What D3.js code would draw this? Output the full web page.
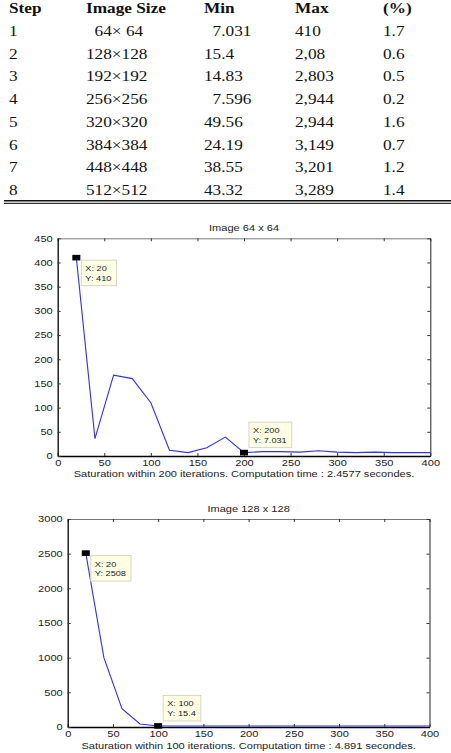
<!DOCTYPE html>
<html>
<head>
<meta charset="utf-8">
<script src="https://cdn.jsdelivr.net/npm/d3@7"></script>
<style>
body { margin: 0; background: #fff; }
svg { display: block; }
.tbl text { font-family: "Liberation Serif", "Times New Roman", serif; font-size: 15px; white-space: pre; fill: #111; }
.tbl .hd { font-weight: bold; }
.plot text { font-family: "Liberation Sans", Arial, sans-serif; font-size: 9px; fill: #222; }
.tip text { font-size: 8px; }
</style>
</head>
<body>
<svg id="canvas" width="451" height="753"></svg>
<script>
// table data
var headers = ["Step", "Image Size", "Min", "Max", "(%)"];
var steps = ["1", "2", "3", "4", "5", "6", "7", "8"];
var sizes = ["  64\u00d7 64", "128\u00d7128", "192\u00d7192", "256\u00d7256", "320\u00d7320", "384\u00d7384", "448\u00d7448", "512\u00d7512"];
var mins = ["  7.031", "15.4", "14.83", "  7.596", "49.56", "24.19", "38.55", "43.32"];
var maxs = ["410", "2,08", "2,803", "2,944", "2,944", "3,149", "3,201", "3,289"];
var pcts = ["1.7", "0.6", "0.5", "0.2", "1.6", "0.7", "1.2", "1.4"];

// plot data
var iters = [20, 40, 60, 80, 100, 120, 140, 160, 180, 200, 220, 240, 260, 280, 300, 320, 340, 360, 380, 400];
var err64 = [410, 36, 167, 160, 110, 12, 7, 17, 39, 7.031, 9, 9, 8, 11, 8, 7, 8, 7, 7, 7];
var err128 = [2508, 1000, 265, 43, 15.4, 15, 15, 15, 15, 15, 15, 15, 15, 15, 15, 15, 15, 15, 15, 15];
var xTicks = [0, 50, 100, 150, 200, 250, 300, 350, 400];
var yTicks64 = [0, 50, 100, 150, 200, 250, 300, 350, 400, 450];
var yTicks128 = [0, 500, 1000, 1500, 2000, 2500, 3000];

var svg = d3.select("#canvas");
var SX = 1.15;   // the scan is stretched sideways a bit
var PX = 1.23;   // plot labels are stretched a bit more

// ---- table ----
var colX = [9, 86, 204, 295, 383];
var rowY = d3.scaleLinear().domain([0, 7]).range([36, 195]);
var cols = [steps, sizes, mins, maxs, pcts];

var tbl = svg.append("g").attr("class", "tbl")
  .attr("transform", "scale(" + SX + ",1)");

tbl.selectAll("text.hd")
  .data(headers)
  .enter().append("text")
  .attr("class", "hd")
  .attr("x", function(d, i) { return colX[i] / SX; })
  .attr("y", 13.5)
  .text(function(d) { return d; });

cols.forEach(function(col, c) {
  tbl.selectAll("text.c" + c)
    .data(col)
    .enter().append("text")
    .attr("class", "c" + c)
    .attr("x", colX[c] / SX)
    .attr("y", function(d, i) { return rowY(i); })
    .text(function(d) { return d; });
});

svg.append("line").attr("x1", 4).attr("x2", 451).attr("y1", 200.8).attr("y2", 200.8)
  .attr("stroke", "#111").attr("stroke-width", 1.6);
svg.append("line").attr("x1", 4).attr("x2", 451).attr("y1", 203.4).attr("y2", 203.4)
  .attr("stroke", "#333").attr("stroke-width", 1.3);

// ---- plots ----
function squish(sel, xOff) {
  sel.attr("transform", "scale(" + PX + ",1)");
  if (xOff != null) sel.attr("x", xOff / PX);
}

function plot(o) {
  var g = svg.append("g").attr("class", "plot");
  var x = d3.scaleLinear().domain([0, 400]).range([o.left, o.right]);
  var y = d3.scaleLinear().domain([0, o.ymax]).range([o.bottom, o.top]);
  var cx = (o.left + o.right) / 2;

  // axes (inward ticks, matlab style)
  var top = g.append("g").attr("transform", "translate(0," + o.top + ")")
    .call(d3.axisTop(x).tickValues(xTicks).tickSize(-3).tickSizeOuter(0).tickFormat(""));
  top.select(".domain").attr("stroke", "#777");
  var right = g.append("g").attr("transform", "translate(" + o.right + ",0)")
    .call(d3.axisRight(y).tickValues(o.yTicks).tickSize(-3).tickSizeOuter(0).tickFormat(""));
  right.select(".domain").attr("stroke", "#222");

  var bottom = g.append("g").attr("transform", "translate(0," + o.bottom + ")")
    .call(d3.axisBottom(x).tickValues(xTicks).tickSize(-3).tickSizeOuter(0).tickPadding(3.5).tickFormat(d3.format("d")));
  bottom.select(".domain").attr("stroke", "#000").attr("stroke-width", 1.3);
  bottom.selectAll("text").attr("font-size", null).attr("font-family", null).call(squish);

  var left = g.append("g").attr("transform", "translate(" + o.left + ",0)")
    .call(d3.axisLeft(y).tickValues(o.yTicks).tickSize(-3).tickSizeOuter(0).tickPadding(5).tickFormat(d3.format("d")));
  left.select(".domain").attr("stroke", "#000").attr("stroke-width", 1.3);
  left.selectAll("text").attr("font-size", null).attr("font-family", null).call(squish, -5);

  g.selectAll(".tick line").attr("stroke", "#333");

  // title and caption
  g.append("text").attr("text-anchor", "middle")
    .attr("transform", "translate(" + cx + "," + o.titleY + ") scale(" + PX + ",1)")
    .text(o.title);
  g.append("text").attr("text-anchor", "middle")
    .attr("transform", "translate(" + cx + "," + o.captionY + ") scale(" + PX + ",1)")
    .text(o.caption);

  // series
  var pts = iters.map(function(d, i) { return [d, o.values[i]]; });
  g.append("path")
    .datum(pts)
    .attr("fill", "none")
    .attr("stroke", "#3030ec")
    .attr("stroke-width", 1.1)
    .attr("d", d3.line().x(function(d) { return x(d[0]); }).y(function(d) { return y(d[1]); }));

  // data tips
  o.tips.forEach(function(t) {
    var px = x(t.x), py = y(t.y);
    var tg = g.append("g").attr("class", "tip");
    var box = tg.append("rect").attr("fill", "#ffffe3").attr("stroke", "#d6d6c4").attr("stroke-width", 1);
    var l1 = tg.append("text").text("X: " + t.x);
    var l2 = tg.append("text").text("Y: " + t.label);
    var w = Math.max(l1.node().getComputedTextLength(), l2.node().getComputedTextLength()) * SX + 9;
    var h = 25.5;
    var bx = px + 5;
    var by = t.below ? py + 2.5 : py - 5 - h;
    box.attr("x", bx).attr("y", by).attr("width", w).attr("height", h);
    l1.attr("transform", "translate(" + (bx + 4) + "," + (by + 11) + ") scale(" + SX + ",1)");
    l2.attr("transform", "translate(" + (bx + 4) + "," + (by + 20.5) + ") scale(" + SX + ",1)");
    g.append("rect")
      .attr("x", px - 4).attr("y", py - 2.8)
      .attr("width", 8).attr("height", 5.6)
      .attr("fill", "#000");
  });
}

plot({
  left: 57.7, right: 430.3, top: 238.3, bottom: 456,
  ymax: 450, yTicks: yTicks64, values: err64,
  title: "Image 64 x 64", titleY: 230.5,
  caption: "Saturation within 200 iterations. Computation time : 2.4577 secondes.", captionY: 477,
  tips: [{ x: 20, y: 410, label: "410", below: true }, { x: 200, y: 7.031, label: "7.031", below: false }]
});

plot({
  left: 67.7, right: 429.5, top: 519, bottom: 727,
  ymax: 3000, yTicks: yTicks128, values: err128,
  title: "Image 128 x 128", titleY: 512,
  caption: "Saturation within 100 iterations. Computation time : 4.891 secondes.", captionY: 748.5,
  tips: [{ x: 20, y: 2508, label: "2508", below: true }, { x: 100, y: 15.4, label: "15.4", below: false }]
});
</script>
</body>
</html>
